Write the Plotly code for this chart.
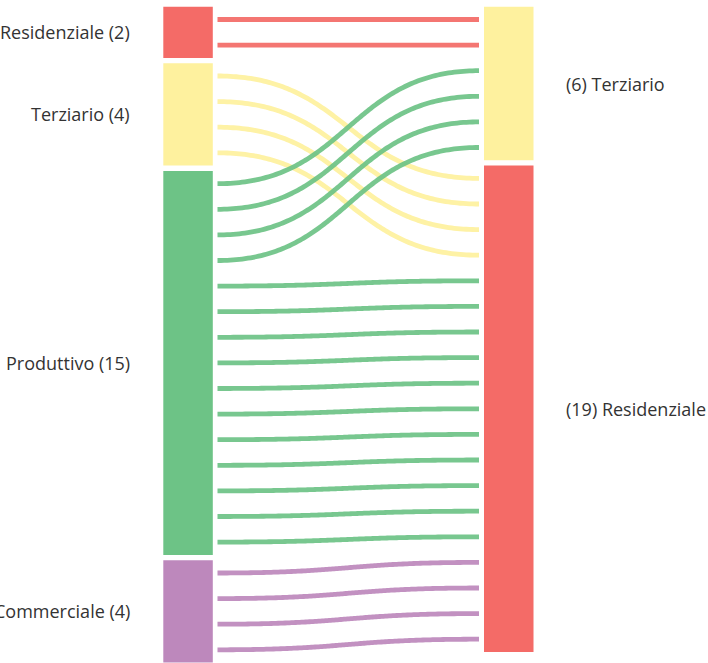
import numpy as np
import plotly.graph_objects as go

# ---- data ----
left_nodes = ["Residenziale", "Terziario", "Produttivo", "Commerciale"]
right_nodes = ["Terziario", "Residenziale"]
link_sources = ["Residenziale", "Terziario", "Produttivo", "Produttivo", "Commerciale"]
link_targets = ["Terziario", "Residenziale", "Terziario", "Residenziale", "Residenziale"]
link_values = [2, 4, 4, 11, 4]
category_colors = {
    "Residenziale": "#F46B67",
    "Terziario": "#FEF19E",
    "Produttivo": "#6DC386",
    "Commerciale": "#BD88BC",
}

# ---- layout constants (pixels of the 708x663 canvas) ----
W, H = 708, 663
UNIT = 25.6          # px per unit
GAP = 5.3            # px between nodes
TOP = 6.7
LEFT_X0, RIGHT_X0, NODE_W = 163.3, 484.0, 49.5
STRAND_X0, STRAND_X1 = 217.5, 479.0
STRAND_W = 4.8
FONT = dict(family="'Open Sans', sans-serif", size=18, color="#333333")

# y axis in "units"
y_top = -TOP / UNIT
y_bot = (H - TOP) / UNIT
gap_u = GAP / UNIT


def totals(nodes, side):
    t = {}
    for n in nodes:
        if side == "L":
            t[n] = sum(v for s, v in zip(link_sources, link_values) if s == n)
        else:
            t[n] = sum(v for s, v in zip(link_targets, link_values) if s == n)
    return t


def positions(nodes, tot):
    pos, y = {}, 0.0
    for n in nodes:
        pos[n] = (y, y + tot[n])
        y += tot[n] + gap_u
    return pos


left_tot = totals(left_nodes, "L")
right_tot = totals(right_nodes, "R")
left_pos = positions(left_nodes, left_tot)
right_pos = positions(right_nodes, right_tot)

fig = go.Figure()

# nodes
for nodes, pos, x0 in ((left_nodes, left_pos, LEFT_X0), (right_nodes, right_pos, RIGHT_X0)):
    for n in nodes:
        y0, y1 = pos[n]
        fig.add_trace(go.Bar(
            x=[x0 + NODE_W / 2], y=[y1 - y0], base=[y0], width=[NODE_W],
            marker=dict(color=category_colors[n], line=dict(width=0)),
            hoverinfo="skip", showlegend=False,
        ))

# strands: order at source by target order, at target by source order
idx = list(range(len(link_values)))
src_order = sorted(idx, key=lambda i: (left_nodes.index(link_sources[i]), right_nodes.index(link_targets[i])))
tgt_order = sorted(idx, key=lambda i: (right_nodes.index(link_targets[i]), left_nodes.index(link_sources[i])))

src_slots, tgt_slots = {}, {}
cursor = {n: left_pos[n][0] for n in left_nodes}
for i in src_order:
    s = link_sources[i]
    src_slots[i] = [cursor[s] + k + 0.5 for k in range(link_values[i])]
    cursor[s] += link_values[i]
cursor = {n: right_pos[n][0] for n in right_nodes}
for i in tgt_order:
    t = link_targets[i]
    tgt_slots[i] = [cursor[t] + k + 0.5 for k in range(link_values[i])]
    cursor[t] += link_values[i]

t = np.linspace(0, 1, 120)
xm = (STRAND_X0 + STRAND_X1) / 2
for i in idx:
    color = category_colors[link_sources[i]]
    xs, ys = [], []
    for ya, yb in zip(src_slots[i], tgt_slots[i]):
        bx = (1 - t) ** 3 * STRAND_X0 + 3 * (1 - t) ** 2 * t * xm + 3 * (1 - t) * t ** 2 * xm + t ** 3 * STRAND_X1
        by = (1 - t) ** 3 * ya + 3 * (1 - t) ** 2 * t * ya + 3 * (1 - t) * t ** 2 * yb + t ** 3 * yb
        xs += list(bx) + [None]
        ys += list(by) + [None]
    fig.add_trace(go.Scatter(
        x=xs, y=ys, mode="lines",
        line=dict(color=color, width=STRAND_W, simplify=False),
        opacity=0.92, hoverinfo="skip", showlegend=False,
    ))

# labels
annotations = []
for n in left_nodes:
    y0, y1 = left_pos[n]
    annotations.append(dict(x=131.5, y=(y0 + y1) / 2, xref="x", yref="y",
                            text=f"{n} ({left_tot[n]})", showarrow=False,
                            xanchor="right", yanchor="middle", font=FONT))
for n in right_nodes:
    y0, y1 = right_pos[n]
    annotations.append(dict(x=564, y=(y0 + y1) / 2, xref="x", yref="y",
                            text=f"({right_tot[n]}) {n}", showarrow=False,
                            xanchor="left", yanchor="middle", font=FONT))

fig.update_layout(
    width=W, height=H,
    margin=dict(l=0, r=0, t=0, b=0),
    paper_bgcolor="white", plot_bgcolor="white",
    barmode="overlay",
    xaxis=dict(range=[0, W], visible=False, fixedrange=True),
    yaxis=dict(range=[y_bot, y_top], visible=False, fixedrange=True),
    annotations=annotations,
    showlegend=False,
)

fig.write_html(
    "out.html",
    config={"displayModeBar": False},
    post_script="document.body.style.margin='0';document.body.style.overflow='hidden';",
)
